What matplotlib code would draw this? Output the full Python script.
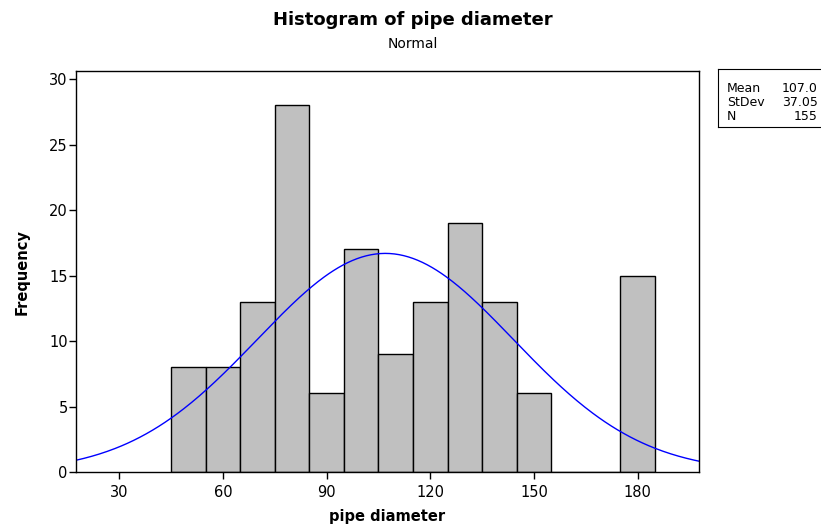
import numpy as np
import matplotlib
matplotlib.use("Agg")
import matplotlib.pyplot as plt

plt.rcParams['font.family'] = ['DejaVu Sans']

bin_centers = [50, 60, 70, 80, 90, 100, 110, 120, 130, 140, 150, 160, 170, 180]
counts = [8, 8, 13, 28, 6, 17, 9, 13, 19, 13, 6, 0, 0, 15]
bin_width = 10
mean = 107.0
stdev = 37.05
n = 155
x_ticks = [30, 60, 90, 120, 150, 180]
y_ticks = [0, 5, 10, 15, 20, 25, 30]

fig = plt.figure(figsize=(8.21, 5.31), dpi=100)
ax = fig.add_axes([0.0926, 0.111, 0.7585, 0.755])

ax.bar(bin_centers, counts, width=bin_width, color='#C0C0C0', edgecolor='black', linewidth=1.0)

xs = np.linspace(17.5, 197.7, 400)
ys = n * bin_width / (stdev * np.sqrt(2 * np.pi)) * np.exp(-0.5 * ((xs - mean) / stdev) ** 2)
ax.plot(xs, ys, color='#0000FF', linewidth=1.0)

ax.set_xlim(17.5, 197.7)
ax.set_ylim(0, 30.6)
ax.set_xticks(x_ticks)
ax.set_yticks(y_ticks)
ax.tick_params(direction='out', length=5, width=1, labelsize=10.5, top=False, right=False)
ax.tick_params(axis='x', pad=4)
ax.tick_params(axis='y', pad=1)
for s in ax.spines.values():
    s.set_linewidth(1.0)

ax.set_xlabel('pipe diameter', fontsize=10.5, fontweight='bold')
ax.xaxis.label.set_va('center')
ax.xaxis.set_label_coords(0.5, -0.112)
ax.set_ylabel('Frequency', fontsize=10.5, fontweight='bold')
ax.yaxis.label.set_va('center')
ax.yaxis.set_label_coords(-0.087, 0.5)

fig.text(0.503, 1 - 20 / 531, 'Histogram of pipe diameter', ha='center', va='center',
         fontsize=13, fontweight='bold')
fig.text(0.503, 1 - 44 / 531, 'Normal', ha='center', va='center', fontsize=10)

# stats box
box_ax = fig.add_axes([718 / 821, 1 - 127 / 531, 110 / 821, 58 / 531])
box_ax.set_xticks([]); box_ax.set_yticks([])
box_ax.set_xlim(718, 828); box_ax.set_ylim(127, 69)
for s in box_ax.spines.values():
    s.set_linewidth(0.8)
labels = ['Mean', 'StDev', 'N']
vals = ['%.1f' % mean, '%.2f' % stdev, '%d' % n]
row_y = [88, 103, 117]
for l, v, y in zip(labels, vals, row_y):
    box_ax.text(727, y, l, fontsize=9, va='center', ha='left')
    box_ax.text(818, y, v, fontsize=9, va='center', ha='right')

fig.savefig('out.png', dpi=100)
